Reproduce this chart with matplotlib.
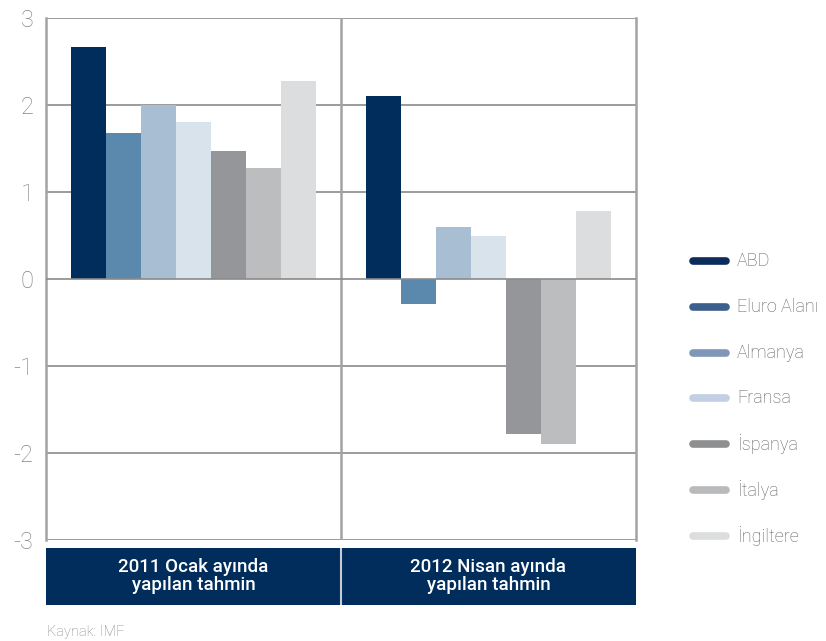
"""GDP growth forecasts, two IMF projection rounds side by side."""
import matplotlib
matplotlib.use("Agg")
import matplotlib.pyplot as plt
import numpy as np

plt.rcParams["font.family"] = ["Roboto", "DejaVu Sans"]

countries = ["ABD", "Eluro Alanı", "Almanya", "Fransa", "İspanya", "İtalya", "İngiltere"]
groups = ["2011 Ocak ayında\nyapılan tahmin", "2012 Nisan ayında\nyapılan tahmin"]
forecast_2011 = [2.67, 1.68, 2.0, 1.8, 1.47, 1.28, 2.28]
forecast_2012 = [2.1, -0.29, 0.6, 0.5, -1.78, -1.9, 0.78]
yticks = [3, 2, 1, 0, -1, -2, -3]
source = "Kaynak: IMF"

bar_colors = ["#002d5c", "#5b89ad", "#a8bfd3", "#d9e3ec", "#959699", "#bcbdbf", "#dcddde"]
legend_colors = ["#0c2d5c", "#3d5f8c", "#8096b8", "#c3cfe2", "#8e8f91", "#b9babc", "#dcddde"]
navy = "#002d5c"
grid_gray = "#8a8a8a"
frame_gray = "#a3a3a3"

W, H = 826, 641
fig = plt.figure(figsize=(W / 100, H / 100), dpi=100)


def px_rect(x0, y0, x1, y1):
    return [x0 / W, 1 - y1 / H, (x1 - x0) / W, (y1 - y0) / H]


ax = fig.add_axes(px_rect(46, 18, 636, 540))
n = len(countries)
width = 0.83 / n
for gi, vals in enumerate([forecast_2011, forecast_2012]):
    xs = gi + 0.5 + (np.arange(n) - (n - 1) / 2) * width
    ax.bar(xs, vals, width=width, color=bar_colors, linewidth=0, zorder=2)

ax.set_xlim(0, 2)
ax.set_ylim(-3, 3)
for y in yticks:
    ax.axhline(y, color=grid_gray, lw=1.2, zorder=3 if y == 0 else 1)
ax.axvline(1, color=frame_gray, lw=1.8, zorder=1)
for side in ["top", "bottom"]:
    ax.spines[side].set_visible(False)
for side in ["left", "right"]:
    ax.spines[side].set_color(frame_gray)
    ax.spines[side].set_linewidth(1.8)
ax.set_xticks([])
ax.set_yticks(yticks)
ax.set_yticklabels([str(t) for t in yticks])
ax.tick_params(axis="y", length=0, pad=9, labelsize=17, labelcolor="#858585")
for lbl in ax.get_yticklabels():
    lbl.set_fontweight("light")

# group label band under the plot
band = fig.add_axes(px_rect(46, 548, 636, 605))
band.set_facecolor(navy)
band.set_xlim(0, 2)
band.set_ylim(0, 1)
band.axvline(1, color="#c8ccd4", lw=1.5)
for s in band.spines.values():
    s.set_visible(False)
band.set_xticks([])
band.set_yticks([])
for gi, g in enumerate(groups):
    band.text(gi + 0.5, 0.5, g, color="white", fontsize=13.5, ha="center", va="center",
              linespacing=1.0, fontweight="medium")

# legend drawn on a pixel-space overlay
over = fig.add_axes([0, 0, 1, 1])
over.set_xlim(0, W)
over.set_ylim(H, 0)
over.axis("off")
for i, (name, c) in enumerate(zip(countries, legend_colors)):
    y = 261 + i * 45.8
    over.plot([693, 726], [y, y], color=c, lw=5.5, solid_capstyle="round")
    over.text(737, y, name, fontsize=13, color="#5f5f5f", va="center", ha="left",
              fontweight="light")

over.text(47, 632, source, fontsize=10.5, color="#8a8a8a", va="center", ha="left",
          fontweight="light")

fig.savefig("out.png", dpi=100)
